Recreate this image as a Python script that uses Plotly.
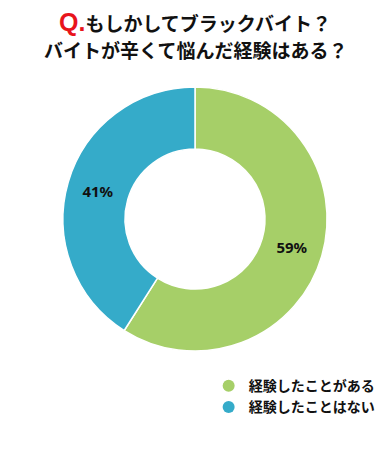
import plotly.graph_objects as go

labels = ["経験したことがある", "経験したことはない"]
values = [59, 41]
colors = ["#a6cf68", "#35abc9"]

FONT = "Noto Sans CJK JP"

fig = go.Figure()
fig.add_trace(go.Pie(
    labels=labels, values=values,
    marker=dict(colors=colors, line=dict(color="white", width=1.5)),
    hole=0.53, sort=False, direction="clockwise", rotation=0,
    texttemplate="<b>%{value}%</b>", textposition="inside",
    insidetextorientation="horizontal",
    textfont=dict(family="Noto Sans", size=15, color="#111111"),
    domain=dict(x=[0, 1], y=[0.225, 0.808]),
    showlegend=False, hoverinfo="label+percent",
))
for lab, col in zip(labels, colors):
    fig.add_trace(go.Scatter(
        x=[None], y=[None], mode="markers", name="<b>" + lab + "</b>",
        marker=dict(color=col, size=11, symbol="circle"),
    ))

fig.update_layout(
    width=390, height=453,
    margin=dict(l=0, r=0, t=0, b=0, autoexpand=False),
    paper_bgcolor="white", plot_bgcolor="white",
    font=dict(family=FONT),
    xaxis=dict(visible=False), yaxis=dict(visible=False),
    showlegend=True,
    legend=dict(x=0.535, y=0.183, xanchor="left", yanchor="top",
                font=dict(family=FONT, size=14, color="#111111"),
                itemsizing="constant", tracegroupgap=0, bgcolor="rgba(0,0,0,0)",
                itemwidth=30),
    annotations=[
        dict(text="<b><span style='color:#e8141b;font-family:Arial;font-size:25px'>Q.</span>もしかしてブラックバイト？</b>",
             x=0.5, y=1 - 22 / 453, xref="paper", yref="paper", xanchor="center", yanchor="middle",
             showarrow=False, font=dict(family=FONT, size=19, color="#111111")),
        dict(text="<b>バイトが辛くて悩んだ経験はある？</b>",
             x=0.5, y=1 - 49 / 453, xref="paper", yref="paper", xanchor="center", yanchor="middle",
             showarrow=False, font=dict(family=FONT, size=19, color="#111111")),
    ],
)
fig.write_html("out.html", config={"displayModeBar": False},
               post_script="document.body.style.margin='0';document.body.style.overflow='hidden';")
